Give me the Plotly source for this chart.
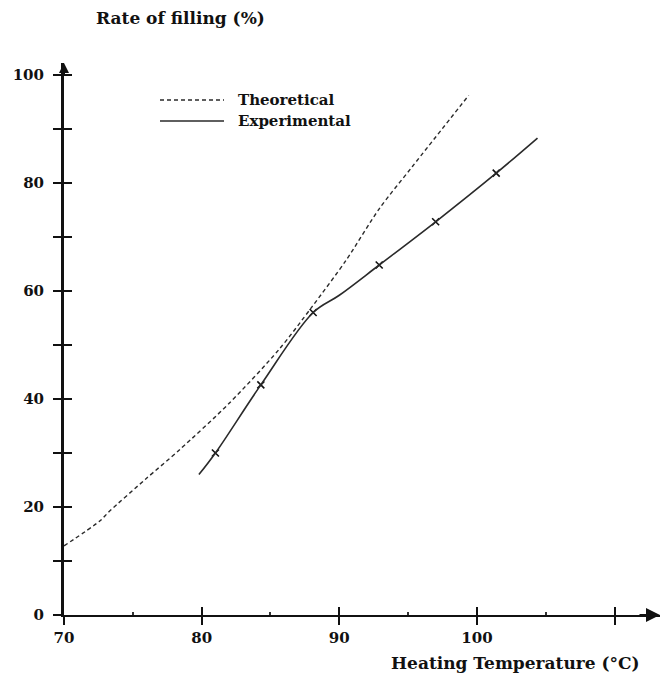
import plotly.graph_objects as go

# ---- data ----
theo_temp = [70.0, 72.6, 73.3, 75.9, 78.4, 82.0, 85.6, 88.0, 90.5, 92.9, 95.3, 99.4]
theo_rate = [12.8, 17.4, 19.2, 25.1, 30.6, 39.2, 49.1, 57.0, 65.7, 75.2, 83.0, 96.2]

exp_curve_temp = [79.8, 81.0, 84.3, 88.1, 90.0, 92.9, 97.0, 101.4, 104.4]
exp_curve_rate = [26.0, 30.0, 42.6, 56.0, 59.2, 64.8, 72.8, 81.8, 88.3]

exp_temp = [81.0, 84.3, 88.1, 92.9, 97.0, 101.4]
exp_rate = [30.0, 42.6, 56.0, 64.8, 72.8, 81.8]

x_tick_vals = [70, 80, 90, 100, 110]
x_tick_text = ["70", "80", "90", "100", ""]
y_tick_vals = [0, 10, 20, 30, 40, 50, 60, 70, 80, 90, 100]
y_tick_text = ["0", "", "20", "", "40", "", "60", "", "80", "", "100"]

FONT = "DejaVu Serif"
LINE = "#2a2a2a"

fig = go.Figure()

fig.add_trace(go.Scatter(
    x=theo_temp, y=theo_rate, mode="lines", name="Theoretical",
    line=dict(color=LINE, width=1.4, dash="4px,3px", shape="spline", smoothing=0.8),
    xaxis="x2", yaxis="y", showlegend=False))

fig.add_trace(go.Scatter(
    x=exp_curve_temp, y=exp_curve_rate, mode="lines", name="Experimental",
    line=dict(color=LINE, width=1.6, shape="spline", smoothing=1.0),
    xaxis="x", yaxis="y2", showlegend=False))

fig.add_trace(go.Scatter(
    x=exp_temp, y=exp_rate, mode="markers", name="Experimental points",
    marker=dict(symbol="x-thin", size=7, line=dict(color="#111", width=1.6)),
    xaxis="x", yaxis="y", showlegend=False))

x_range = [70, 113.3]
y_range = [0, 102.2]

TICKFONT = dict(family=FONT, size=15, color="#111", weight="bold")

fig.update_layout(
    width=668, height=677,
    margin=dict(l=64, r=8, t=63, b=62),
    paper_bgcolor="white", plot_bgcolor="white",
    font=dict(family=FONT, size=15, color="#111", weight="bold"),
    xaxis=dict(range=x_range, showgrid=False, zeroline=False,
               showline=True, linecolor="#111", linewidth=2.2,
               ticks="outside", ticklen=8, tickwidth=2, tickcolor="#111",
               tickmode="array", tickvals=x_tick_vals, ticktext=x_tick_text,
               tickfont=TICKFONT,
               minor=dict(ticks="inside", ticklen=3, tickwidth=1.5, tickcolor="#333",
                          tick0=75, dtick=10),
               anchor="y"),
    xaxis2=dict(range=x_range, matches="x", overlaying="x", anchor="y", side="bottom",
                showgrid=False, zeroline=False, showline=False,
                ticks="inside", ticklen=8, tickwidth=2, tickcolor="#111",
                tickmode="array", tickvals=[80, 90, 100, 110], showticklabels=False),
    yaxis=dict(range=y_range, showgrid=False, zeroline=False,
               showline=True, linecolor="#111", linewidth=3,
               ticks="outside", ticklen=8, tickwidth=2, tickcolor="#111",
               tickmode="array", tickvals=y_tick_vals, ticktext=y_tick_text,
               ticklabelstandoff=6,
               tickfont=TICKFONT,
               anchor="x"),
    yaxis2=dict(range=y_range, matches="y", overlaying="y", anchor="x", side="left",
                showgrid=False, zeroline=False, showline=False,
                ticks="inside", ticklen=8, tickwidth=2, tickcolor="#111",
                tickmode="array", tickvals=y_tick_vals, showticklabels=False),
)

def px_to_paper_x(px):
    return (px - 64) / 596.0

def px_to_paper_y(py):
    return (615 - py) / 552.0

# Axis arrowheads
fig.add_annotation(x=x_range[1], y=0, xref="x", yref="y", ax=-22, ay=0,
                   showarrow=True, arrowhead=2, arrowsize=1.4, arrowwidth=2,
                   arrowcolor="#111", text="")
fig.add_annotation(x=70, y=y_range[1], xref="x", yref="y", ax=0, ay=14,
                   showarrow=True, arrowhead=2, arrowsize=1.0, arrowwidth=2,
                   arrowcolor="#111", text="")

# Axis titles
fig.add_annotation(x=px_to_paper_x(180), y=px_to_paper_y(18), xref="paper", yref="paper",
                   text="Rate of filling (%)", showarrow=False,
                   xanchor="center", yanchor="middle",
                   font=dict(family=FONT, size=17, color="#111", weight="bold"))
fig.add_annotation(x=px_to_paper_x(515), y=px_to_paper_y(663), xref="paper", yref="paper",
                   text="Heating Temperature (°C)", showarrow=False,
                   xanchor="center", yanchor="middle",
                   font=dict(family=FONT, size=17, color="#111", weight="bold"))

# Legend (drawn manually to match the reference layout)
leg_y1 = px_to_paper_y(100)
leg_y2 = px_to_paper_y(121)
fig.add_shape(type="line", xref="paper", yref="paper",
              x0=px_to_paper_x(160), x1=px_to_paper_x(224), y0=leg_y1, y1=leg_y1,
              line=dict(color=LINE, width=1.4, dash="4px,3px"))
fig.add_shape(type="line", xref="paper", yref="paper",
              x0=px_to_paper_x(160), x1=px_to_paper_x(224), y0=leg_y2, y1=leg_y2,
              line=dict(color=LINE, width=1.4))
fig.add_annotation(x=px_to_paper_x(236), y=leg_y1, xref="paper", yref="paper",
                   text="Theoretical", showarrow=False, xanchor="left", yanchor="middle",
                   font=dict(family=FONT, size=15, color="#111", weight="bold"))
fig.add_annotation(x=px_to_paper_x(236), y=leg_y2, xref="paper", yref="paper",
                   text="Experimental", showarrow=False, xanchor="left", yanchor="middle",
                   font=dict(family=FONT, size=15, color="#111", weight="bold"))

fig.write_html("out.html")
